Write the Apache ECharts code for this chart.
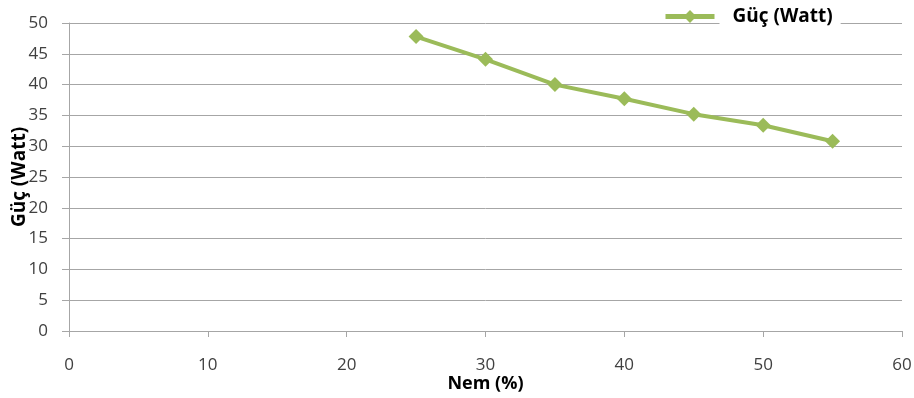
<!DOCTYPE html>
<html><head><meta charset="utf-8">
<script src="https://cdn.jsdelivr.net/npm/echarts@6/dist/echarts.min.js"></script>
<style>html,body{margin:0;padding:0;background:#fff}#c{width:914px;height:398px}</style>
</head><body><div id="c"></div>
<script>
const nem = [25, 30, 35, 40, 45, 50, 55];
const guc = [47.8, 44.1, 40.0, 37.7, 35.2, 33.4, 30.8];
const seriesName = 'Güç (Watt)';
const xName = 'Nem (%)';
const yName = 'Güç (Watt)';

const chart = echarts.init(document.getElementById('c'), null, {renderer: 'canvas'});
const font = 'Open Sans, Liberation Sans, sans-serif';
chart.setOption({
  animation: false,
  grid: {left: 69, right: 12, top: 23, bottom: 67, containLabel: false, outerBoundsMode: 'none'},
  legend: {
    left: 663, top: 4,
    padding: 0,
    itemWidth: 49, itemHeight: 16, itemGap: 10,
    lineStyle: {width: 5, color: '#9bbb59'},
    textStyle: {fontFamily: font, fontSize: 19, fontWeight: 'bold', color: '#000',
      backgroundColor: '#fff', padding: [3, 8, 3, 13]},
    data: [seriesName]
  },
  xAxis: {
    type: 'value', min: 0, max: 60, interval: 10,
    name: xName, nameLocation: 'middle', nameGap: 44, nameMoveOverlap: false,
    nameTextStyle: {fontFamily: font, fontSize: 18, fontWeight: 'bold', color: '#000'},
    axisLine: {show: true, lineStyle: {color: '#a6a6a6', width: 1}},
    axisTick: {show: true, length: 6, lineStyle: {color: '#a6a6a6'}},
    axisLabel: {fontFamily: font, fontSize: 17, color: '#404040', margin: 26},
    splitLine: {show: false}
  },
  yAxis: {
    type: 'value', min: 0, max: 50, interval: 5,
    name: yName, nameLocation: 'middle', nameGap: 40, nameRotate: 90, nameMoveOverlap: false,
    nameTextStyle: {fontFamily: font, fontSize: 19, fontWeight: 'bold', color: '#000'},
    axisLine: {show: true, lineStyle: {color: '#a6a6a6', width: 1}},
    axisTick: {show: true, length: 7, lineStyle: {color: '#a6a6a6'}},
    axisLabel: {fontFamily: font, fontSize: 17, color: '#404040', margin: 21},
    splitLine: {show: true, lineStyle: {color: '#a6a6a6', width: 1}}
  },
  series: [{
    name: seriesName, type: 'line',
    data: nem.map((x, i) => [x, guc[i]]),
    symbol: 'diamond', symbolSize: 15,
    lineStyle: {color: '#9bbb59', width: 4},
    itemStyle: {color: '#9bbb59'},
    z: 3
  }]
});
</script></body></html>
